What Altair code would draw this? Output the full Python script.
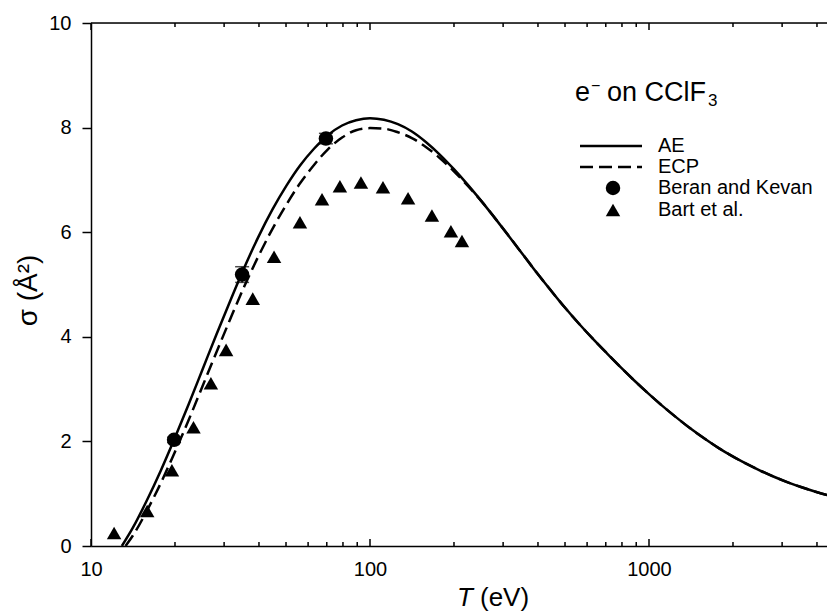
import altair as alt
import pandas as pd

# ---------------- data ----------------
AE_T = [12.9, 14.13, 15.85, 17.78, 19.95, 22.39, 25.12, 28.18, 31.62, 35.48, 39.81,
        44.67, 50.12, 56.23, 63.1, 70.79, 79.43, 89.13, 100.0, 112.2, 125.9, 141.3,
        158.5, 177.8, 199.5, 223.9, 251.2, 281.8, 316.2, 354.8, 398.1, 446.7, 501.2,
        562.3, 631.0, 707.9, 794.3, 891.3, 1000.0, 1122.0, 1259.0, 1413.0, 1585.0,
        1778.0, 1995.0, 2239.0, 2512.0, 2818.0, 3162.0, 3548.0, 3981.0, 4467.0, 5012.0]
AE_S = [0.0, 0.35, 0.87, 1.44, 2.06, 2.71, 3.38, 4.05, 4.7, 5.33, 5.91,
        6.43, 6.885, 7.28, 7.6, 7.86, 8.04, 8.14, 8.18, 8.15, 8.065, 7.925,
        7.725, 7.485, 7.21, 6.91, 6.59, 6.255, 5.91, 5.56, 5.21, 4.875, 4.55,
        4.245, 3.955, 3.68, 3.41, 3.15, 2.905, 2.67, 2.45, 2.24, 2.05,
        1.872, 1.713, 1.569, 1.438, 1.319, 1.213, 1.118, 1.033, 0.957, 0.888]

ECP_T = [13.3, 14.13, 15.85, 17.78, 19.95, 22.39, 25.12, 28.18, 31.62, 35.48, 39.81,
         44.67, 50.12, 56.23, 63.1, 70.79, 79.43, 89.13, 100.0, 112.2, 125.9, 141.3,
         158.5, 177.8, 199.5, 223.9, 251.2]
ECP_S = [0.0, 0.2, 0.67, 1.2, 1.79, 2.41, 3.06, 3.71, 4.35, 4.97, 5.54,
         6.06, 6.525, 6.94, 7.29, 7.59, 7.81, 7.95, 7.99, 7.98, 7.91, 7.8,
         7.63, 7.42, 7.17, 6.89, 6.59]

BART_T = [12.1, 15.9, 19.5, 23.3, 26.9, 30.5, 38.0, 45.3, 56.1, 67.3, 78.0, 92.8,
          111.3, 136.9, 166.7, 195.0, 213.6]
BART_S = [0.25, 0.67, 1.45, 2.27, 3.11, 3.75, 4.73, 5.53, 6.19, 6.63, 6.88, 6.95,
          6.86, 6.65, 6.32, 6.02, 5.83]

BERAN_T = [19.85, 34.8, 69.5]
BERAN_S = [2.03, 5.19, 7.79]
BERAN_ERR = [0.05, 0.15, 0.1]

MAJOR_TICKS = [10, 100, 1000]
MINOR_TICKS = [20, 30, 40, 50, 60, 70, 80, 90, 200, 300, 400, 500, 600, 700, 800, 900,
               2000, 3000, 4000]
Y_TICKS = [0, 2, 4, 6, 8, 10]

LEGEND_LABELS = ["AE", "ECP", "Beran and Kevan", "Bart et al."]

# ---------------- layout ----------------
W, H = 736, 523
XMAX = 4345
FONT = "Liberation Sans"

xs = alt.Scale(type="log", domain=[10, XMAX], nice=False)
ys = alt.Scale(domain=[0, 10], nice=False)

x_axis = alt.Axis(values=MAJOR_TICKS, format="d", ticks=False, grid=False, title=None,
                  labelFont=FONT, labelFontSize=20, labelColor="black", labelPadding=13,
                  labelFlush=False, domainColor="black", domainWidth=1.5)
y_axis = alt.Axis(values=Y_TICKS, grid=False, title=None, tickSize=9, tickColor="black",
                  tickWidth=1.5, labelFont=FONT, labelFontSize=20, labelColor="black",
                  labelPadding=11, labelFlush=False, domainColor="black", domainWidth=1.5)


def X(field="T"):
    return alt.X(f"{field}:Q", scale=xs, axis=x_axis)


def Y(field="S"):
    return alt.Y(f"{field}:Q", scale=ys, axis=y_axis)


ae = pd.DataFrame({"T": AE_T, "S": AE_S})
tail = ae[ae["T"] > ECP_T[-1]]
ecp = pd.concat([pd.DataFrame({"T": ECP_T, "S": ECP_S}), tail], ignore_index=True)
bart = pd.DataFrame({"T": BART_T, "S": BART_S})
beran = pd.DataFrame({"T": BERAN_T, "S": BERAN_S,
                      "lo": [s - e for s, e in zip(BERAN_S, BERAN_ERR)],
                      "hi": [s + e for s, e in zip(BERAN_S, BERAN_ERR)]})
major = pd.DataFrame({"T": MAJOR_TICKS})
minor = pd.DataFrame({"T": MINOR_TICKS})
one = alt.Data(values=[{}])

ae_line = alt.Chart(ae).mark_line(color="black", strokeWidth=2.5, interpolate="monotone",
                                  clip=True).encode(x=X(), y=Y())
ecp_line = alt.Chart(ecp).mark_line(color="black", strokeWidth=2.5, strokeDash=[13, 6],
                                    interpolate="monotone", clip=True).encode(x=X(), y=Y())
bart_pts = alt.Chart(bart).mark_point(shape="triangle-up", filled=True, color="black",
                                      size=210, opacity=1).encode(x=X(), y=Y())
beran_bar = alt.Chart(beran).mark_rule(color="black", strokeWidth=1.5).encode(
    x=X(), y=Y("lo"), y2="hi:Q")
beran_cap_hi = alt.Chart(beran).mark_tick(color="black", orient="horizontal", size=14,
                                          thickness=1.5).encode(x=X(), y=Y("hi"))
beran_cap_lo = alt.Chart(beran).mark_tick(color="black", orient="horizontal", size=14,
                                          thickness=1.5).encode(x=X(), y=Y("lo"))
beran_pts = alt.Chart(beran).mark_point(shape="circle", filled=True, color="black",
                                        size=210, opacity=1).encode(x=X(), y=Y())


# inward ticks on bottom and top edges
def ticks(df, y0, y1):
    return alt.Chart(df).mark_rule(color="black", strokeWidth=1.5).encode(
        x=X(), y=alt.value(y0), y2=alt.value(y1))


bot_major = ticks(major, H, H - 7)
bot_minor = ticks(minor, H, H - 4)
top_major = ticks(major, 0, 7)
top_minor = ticks(minor, 0, 4)
top_line = alt.Chart(one).mark_rule(color="black", strokeWidth=1.5).encode(
    x=alt.value(0), x2=alt.value(W), y=alt.value(0))


def txt(text, x, y, size, **kw):
    return alt.Chart(one).mark_text(text=text, font=FONT, fontSize=size, color="black",
                                    align=kw.pop("align", "left"),
                                    baseline=kw.pop("baseline", "alphabetic"), **kw).encode(
        x=alt.value(x), y=alt.value(y))


# axis titles
x_title_T = txt("T", 366, 583, 26, fontStyle="italic")
x_title_rest = txt("(eV)", 389, 583, 26)
y_title = txt("σ (Å²)", -62, H / 2 + 6, 28, angle=270, align="center", baseline="middle")

# annotation e- on CClF3
ann_e = txt("e", 484, 78, 27)
ann_minus = txt("−", 500, 68, 16)
ann_rest = txt("on CClF", 516, 78, 27)
ann_sub = txt("3", 617, 83, 17)

# legend
LX0, LX1, LTX = 489, 551, 567
LY = [123, 144, 165, 187]
leg_ae = alt.Chart(one).mark_rule(color="black", strokeWidth=2.5).encode(
    x=alt.value(LX0), x2=alt.value(LX1), y=alt.value(LY[0]))
leg_ecp = alt.Chart(one).mark_rule(color="black", strokeWidth=2.5, strokeDash=[13, 6]).encode(
    x=alt.value(LX0), x2=alt.value(LX1), y=alt.value(LY[1]))
leg_circ = alt.Chart(one).mark_point(shape="circle", filled=True, color="black", size=210,
                                     opacity=1).encode(x=alt.value(522), y=alt.value(LY[2]))
leg_tri = alt.Chart(one).mark_point(shape="triangle-up", filled=True, color="black", size=210,
                                    opacity=1).encode(x=alt.value(522), y=alt.value(LY[3]))
leg_txt = [txt(lbl, LTX, y, 20, baseline="middle") for lbl, y in zip(LEGEND_LABELS, LY)]

chart = alt.layer(
    ae_line, ecp_line, bart_pts, beran_bar, beran_cap_hi, beran_cap_lo, beran_pts,
    bot_major, bot_minor, top_major, top_minor, top_line,
    x_title_T, x_title_rest, y_title, ann_e, ann_minus, ann_rest, ann_sub,
    leg_ae, leg_ecp, leg_circ, leg_tri, *leg_txt,
).properties(
    width=W, height=H,
    autosize=alt.AutoSizeParams(type="none"),
    padding={"left": 83, "top": 15, "right": 0, "bottom": 66},
).configure_view(stroke=None).configure(background="white")

chart.save("out.html", embed_options={"renderer": "svg", "actions": False})
